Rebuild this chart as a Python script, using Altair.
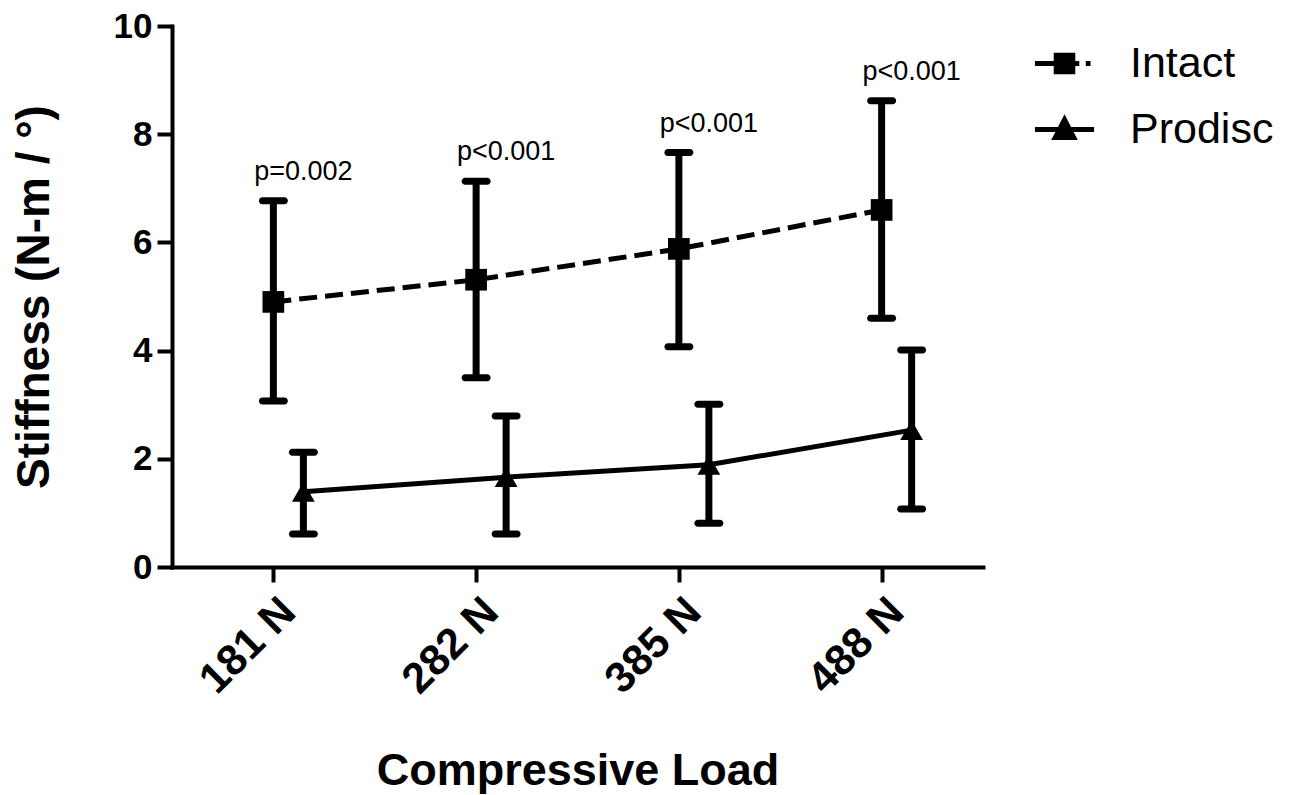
import altair as alt
import pandas as pd

# ---- data ----
loads = ["181 N", "282 N", "385 N", "488 N"]
series = ["Intact", "Prodisc"]
intact_mean = [4.90, 5.31, 5.88, 6.60]
intact_lo = [3.07, 3.50, 4.07, 4.60]
intact_hi = [6.77, 7.13, 7.66, 8.62]
prodisc_mean = [1.39, 1.66, 1.89, 2.53]
prodisc_lo = [0.61, 0.61, 0.81, 1.07]
prodisc_hi = [2.12, 2.79, 3.01, 4.01]
p_labels = ["p=0.002", "p<0.001", "p<0.001", "p<0.001"]
y_ticks = [0, 2, 4, 6, 8, 10]

FONT = "Liberation Sans"
W, H = 811, 541
OFF = 30  # horizontal offset of Prodisc group (style)

df = pd.DataFrame({
    "load": loads * 2,
    "series": [series[0]] * len(loads) + [series[1]] * len(loads),
    "mean": intact_mean + prodisc_mean,
    "lo": intact_lo + prodisc_lo,
    "hi": intact_hi + prodisc_hi,
})
pdf = pd.DataFrame({"load": loads, "p": p_labels, "hi": intact_hi})

x_axis = alt.Axis(
    title="Compressive Load", labelAngle=-45, labelFontSize=43, labelFontWeight="bold",
    labelFont=FONT, labelPadding=8, titleFont=FONT, titleFontSize=45, titleFontWeight="bold",
    titleX=W / 2, titleY=217, titleAlign="center", titleBaseline="alphabetic",
)
y_axis = alt.Axis(
    title="Stiffness (N-m / °)", values=y_ticks, labelFontSize=35, labelFontWeight="bold",
    labelFont=FONT, labelPadding=5, titleFont=FONT, titleFontSize=46, titleFontWeight="bold",
    titleAngle=-90, titleX=-124, titleY=H / 2, titleAlign="center", titleBaseline="alphabetic",
)


def X():
    return alt.X("load:N", sort=loads, scale=alt.Scale(type="point", padding=0.5), axis=x_axis)


def Y(field):
    return alt.Y(f"{field}:Q", scale=alt.Scale(domain=[0, 10], nice=False, zero=True), axis=y_axis)


base = alt.Chart(df)


def group(name, off, shape, size, dash):
    src = base.transform_filter(alt.datum.series == name)
    rule = src.mark_rule(color="black", strokeWidth=7, xOffset=off).encode(
        x=X(), y=Y("lo"), y2="hi:Q")
    cap_lo = src.mark_tick(color="black", size=29, thickness=7, cornerRadius=3.5,
                           opacity=1, xOffset=off).encode(x=X(), y=Y("lo"))
    cap_hi = src.mark_tick(color="black", size=29, thickness=7, cornerRadius=3.5,
                           opacity=1, xOffset=off).encode(x=X(), y=Y("hi"))
    line_kw = dict(color="black", strokeWidth=5, xOffset=off)
    if dash:
        line_kw["strokeDash"] = dash
    line = src.mark_line(**line_kw).encode(x=X(), y=Y("mean"))
    pts = src.mark_point(shape=shape, filled=True, size=size, color="black", opacity=1,
                         xOffset=off).encode(x=X(), y=Y("mean"))
    return [line, rule, cap_lo, cap_hi, pts]


intact_layers = group("Intact", 0, "square", 470, [18, 8])
prod_layers = group("Prodisc", OFF, "triangle-up", 520, None)

ptext = alt.Chart(pdf).mark_text(
    font=FONT, fontSize=27, color="black", align="center", baseline="alphabetic",
    dy=-21, xOffset=OFF,
).encode(x=X(), y=Y("hi"), text="p:N")

# legend symbols: line + marker drawn as custom paths
path_intact = ("M-1,0H-0.28M-0.28,-0.28H0.28V0.28H-0.28ZM0.28,0H0.5M0.72,0H0.88")
path_prodisc = ("M-1,0H1M0,-0.33L0.31,0.27L-0.31,0.27Z")
black2 = alt.Scale(domain=series, range=["black", "black"])

legend_layer = base.mark_point(
    filled=True, strokeWidth=5, opacity=0, size=10,
).encode(
    x=X(), y=Y("mean"),
    fill=alt.Fill("series:N", scale=black2, legend=None),
    stroke=alt.Stroke("series:N", scale=black2, legend=None),
    shape=alt.Shape(
        "series:N",
        scale=alt.Scale(domain=series, range=[path_intact, path_prodisc]),
        legend=alt.Legend(
            title=None, orient="none", legendX=860, legendY=5,
            labelFont=FONT, labelFontSize=43, labelColor="black", labelOffset=33,
            symbolSize=3500, symbolStrokeWidth=5, symbolFillColor="black",
            symbolStrokeColor="black", symbolOpacity=1, rowPadding=11,
        ),
    ),
)

chart = alt.layer(
    *intact_layers, *prod_layers, ptext, legend_layer
).properties(
    width=W, height=H,
    padding={"left": 164, "top": 18, "right": 302, "bottom": 228},
    autosize=alt.AutoSizeParams(type="none"),
).configure_view(stroke=None).configure_axis(
    grid=False, domainColor="black", domainWidth=4, domainCap="square",
    tickColor="black", tickWidth=4, tickSize=15, labelColor="black", titleColor="black",
)

chart.save("out.html", embed_options={"renderer": "svg", "actions": False})
